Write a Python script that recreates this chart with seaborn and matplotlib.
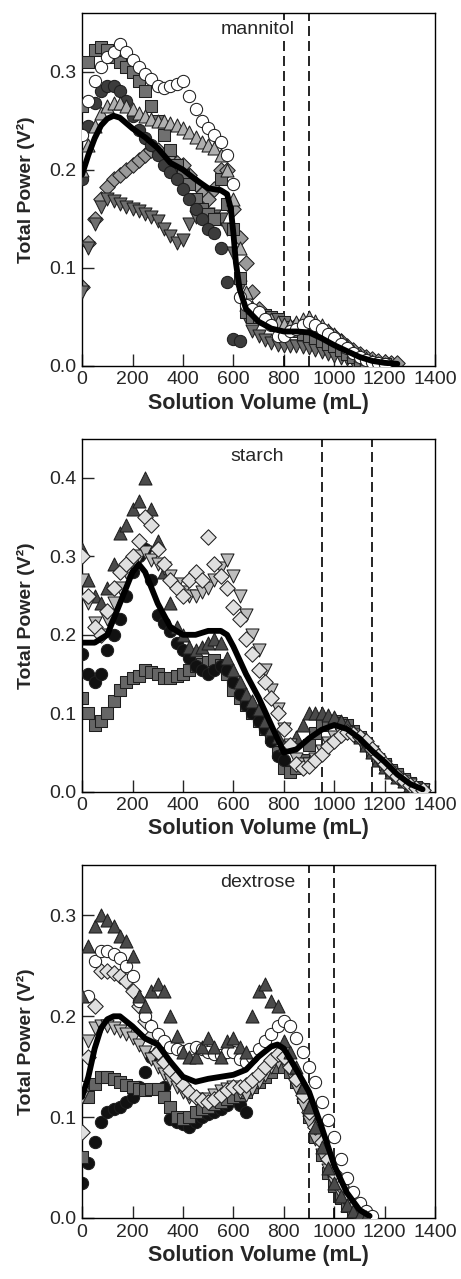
import matplotlib

matplotlib.use("Agg")
import matplotlib.pyplot as plt
import seaborn as sns

# ---- mannitol (top panel) ----
man_circ_x = list(range(0, 626, 25))
man_circ_y = [0.19, 0.245, 0.268, 0.28, 0.285, 0.285, 0.28, 0.27, 0.255, 0.24, 0.232, 0.225, 0.215,
              0.205, 0.198, 0.19, 0.18, 0.17, 0.16, 0.15, 0.14, 0.135, 0.12, 0.085, 0.027, 0.025]
man_open_x = list(range(0, 1201, 25))
man_open_y = [0.235, 0.27, 0.29, 0.305, 0.315, 0.32, 0.328, 0.32, 0.312, 0.305, 0.298, 0.292, 0.285,
              0.283, 0.285, 0.287, 0.29, 0.275, 0.262, 0.25, 0.242, 0.235, 0.228, 0.215, 0.185, 0.07,
              0.062, 0.058, 0.055, 0.048, 0.042, 0.03, 0.03, 0.035, 0.038, 0.042, 0.045, 0.042, 0.038,
              0.032, 0.028, 0.022, 0.018, 0.013, 0.009, 0.006, 0.004, 0.003, 0.002]
man_sq_x = list(range(0, 1201, 25))
man_sq_y = [0.265, 0.31, 0.322, 0.325, 0.322, 0.315, 0.31, 0.305, 0.3, 0.29, 0.28, 0.265, 0.25,
            0.235, 0.22, 0.205, 0.195, 0.185, 0.17, 0.16, 0.155, 0.15, 0.19, 0.165, 0.14, 0.09,
            0.055, 0.05, 0.05, 0.052, 0.05, 0.048, 0.045, 0.04, 0.035, 0.032, 0.03, 0.028, 0.025,
            0.022, 0.02, 0.016, 0.012, 0.009, 0.006, 0.004, 0.003, 0.002, 0.002]
man_tri_x = list(range(0, 1201, 25))
man_tri_y = [0.2, 0.225, 0.245, 0.258, 0.265, 0.268, 0.268, 0.265, 0.262, 0.258, 0.255, 0.252, 0.25,
             0.25, 0.248, 0.246, 0.243, 0.238, 0.233, 0.228, 0.225, 0.222, 0.215, 0.2, 0.17, 0.12,
             0.075, 0.06, 0.055, 0.05, 0.048, 0.045, 0.043, 0.042, 0.045, 0.048, 0.05, 0.046, 0.042,
             0.037, 0.032, 0.026, 0.02, 0.015, 0.011, 0.008, 0.005, 0.003, 0.002]
man_dia_x = list(range(0, 1251, 25))
man_dia_y = [0.08, 0.125, 0.15, 0.17, 0.182, 0.19, 0.195, 0.2, 0.205, 0.21, 0.215, 0.22, 0.22,
             0.215, 0.21, 0.207, 0.205, 0.195, 0.185, 0.175, 0.17, 0.18, 0.2, 0.2, 0.16, 0.13,
             0.105, 0.075, 0.058, 0.05, 0.045, 0.042, 0.04, 0.04, 0.042, 0.043, 0.044, 0.042, 0.038,
             0.034, 0.03, 0.025, 0.02, 0.016, 0.012, 0.009, 0.007, 0.005, 0.004, 0.003, 0.003]
man_tdn_x = list(range(0, 1151, 25))
man_tdn_y = [0.075, 0.12, 0.145, 0.162, 0.17, 0.168, 0.165, 0.162, 0.16, 0.158, 0.155, 0.152, 0.148,
             0.14, 0.132, 0.125, 0.128, 0.145, 0.152, 0.155, 0.155, 0.153, 0.15, 0.14, 0.115, 0.08,
             0.05, 0.035, 0.03, 0.026, 0.023, 0.021, 0.02, 0.02, 0.02, 0.019, 0.018, 0.016, 0.014,
             0.012, 0.01, 0.008, 0.007, 0.005, 0.004, 0.003, 0.002]
man_mean_x = [0, 25, 50, 75, 100, 125, 150, 200, 250, 300, 350, 400, 450, 500, 550, 575, 590, 600,
              610, 625, 650, 700, 750, 800, 850, 900, 950, 1000, 1050, 1100, 1150, 1200, 1250]
man_mean_y = [0.195, 0.215, 0.232, 0.245, 0.252, 0.255, 0.253, 0.242, 0.233, 0.222, 0.207, 0.2, 0.19,
              0.181, 0.179, 0.175, 0.16, 0.135, 0.105, 0.078, 0.058, 0.045, 0.038, 0.035, 0.035, 0.034,
              0.028, 0.021, 0.015, 0.009, 0.005, 0.003, 0.002]

# ---- starch (middle panel) ----
sta_circ_x = list(range(0, 801, 25))
sta_circ_y = [0.175, 0.15, 0.14, 0.15, 0.18, 0.2, 0.22, 0.25, 0.28, 0.3, 0.31, 0.27, 0.225, 0.215,
              0.205, 0.19, 0.18, 0.17, 0.16, 0.155, 0.15, 0.155, 0.16, 0.155, 0.14, 0.125, 0.11,
              0.1, 0.09, 0.08, 0.065, 0.045, 0.04]
sta_sq_x = list(range(0, 1351, 25))
sta_sq_y = [0.12, 0.1, 0.085, 0.09, 0.1, 0.115, 0.13, 0.14, 0.145, 0.148, 0.155, 0.152, 0.15, 0.145,
            0.145, 0.148, 0.15, 0.155, 0.16, 0.163, 0.165, 0.168, 0.162, 0.15, 0.13, 0.12, 0.11,
            0.1, 0.09, 0.08, 0.07, 0.05, 0.03, 0.025, 0.03, 0.04, 0.06, 0.075, 0.085, 0.09, 0.09,
            0.088, 0.085, 0.078, 0.07, 0.06, 0.05, 0.042, 0.035, 0.028, 0.022, 0.016, 0.011,
            0.006, 0.003]
sta_tri_x = list(range(0, 1351, 25))
sta_tri_y = [0.31, 0.27, 0.25, 0.24, 0.26, 0.29, 0.33, 0.34, 0.36, 0.37, 0.4, 0.36, 0.32, 0.28,
             0.24, 0.21, 0.2, 0.185, 0.18, 0.185, 0.19, 0.195, 0.19, 0.17, 0.155, 0.14, 0.125,
             0.115, 0.105, 0.09, 0.08, 0.07, 0.06, 0.06, 0.07, 0.085, 0.1, 0.1, 0.1, 0.098, 0.095,
             0.09, 0.085, 0.078, 0.07, 0.06, 0.05, 0.04, 0.032, 0.025, 0.019, 0.014, 0.009,
             0.005, 0.002]
sta_dia_x = list(range(0, 1351, 25))
sta_dia_y = [0.3, 0.25, 0.21, 0.2, 0.23, 0.26, 0.28, 0.29, 0.3, 0.32, 0.35, 0.34, 0.31, 0.29,
             0.27, 0.26, 0.25, 0.27, 0.28, 0.27, 0.325, 0.29, 0.275, 0.26, 0.235, 0.22, 0.195,
             0.175, 0.155, 0.14, 0.12, 0.1, 0.08, 0.06, 0.035, 0.03, 0.033, 0.04, 0.048, 0.058,
             0.065, 0.072, 0.076, 0.074, 0.07, 0.064, 0.055, 0.045, 0.035, 0.027, 0.02, 0.014,
             0.009, 0.005, 0.002]
sta_tdn_x = list(range(0, 1351, 25))
sta_tdn_y = [0.27, 0.24, 0.215, 0.2, 0.22, 0.24, 0.26, 0.28, 0.29, 0.3, 0.305, 0.295, 0.29, 0.285,
             0.275, 0.265, 0.255, 0.25, 0.25, 0.255, 0.26, 0.27, 0.285, 0.295, 0.275, 0.25, 0.225,
             0.2, 0.18, 0.155, 0.13, 0.105, 0.08, 0.06, 0.042, 0.035, 0.035, 0.042, 0.052, 0.062,
             0.07, 0.075, 0.075, 0.072, 0.066, 0.058, 0.05, 0.04, 0.031, 0.024, 0.017, 0.012,
             0.008, 0.004, 0.002]
sta_mean_x = [0, 50, 100, 150, 200, 225, 250, 300, 350, 400, 450, 500, 550, 575, 600, 650, 700,
              750, 800, 850, 900, 950, 1000, 1050, 1100, 1150, 1200, 1250, 1300, 1350]
sta_mean_y = [0.19, 0.19, 0.2, 0.24, 0.28, 0.29, 0.28, 0.24, 0.21, 0.2, 0.2, 0.205, 0.205, 0.2,
              0.185, 0.15, 0.12, 0.085, 0.05, 0.054, 0.068, 0.079, 0.085, 0.08, 0.068, 0.052, 0.038,
              0.022, 0.01, 0.003]

# ---- dextrose (bottom panel) ----
dex_circ_x = list(range(0, 651, 25))
dex_circ_y = [0.035, 0.055, 0.075, 0.095, 0.105, 0.108, 0.11, 0.115, 0.12, 0.13, 0.145, 0.16, 0.165,
              0.13, 0.098, 0.095, 0.093, 0.09, 0.095, 0.1, 0.103, 0.105, 0.108, 0.112, 0.118, 0.112,
              0.105]
dex_sq_x = list(range(0, 1126, 25))
dex_sq_y = [0.06, 0.12, 0.133, 0.14, 0.14, 0.138, 0.135, 0.132, 0.13, 0.128, 0.127, 0.128, 0.128,
            0.12, 0.11, 0.1, 0.098, 0.1, 0.105, 0.108, 0.11, 0.113, 0.115, 0.118, 0.12, 0.122, 0.125,
            0.13, 0.135, 0.14, 0.145, 0.15, 0.15, 0.145, 0.135, 0.12, 0.1, 0.08, 0.062, 0.045, 0.032,
            0.02, 0.012, 0.007, 0.003, 0.001]
dex_tri_x = list(range(0, 1126, 25))
dex_tri_y = [0.22, 0.27, 0.29, 0.3, 0.295, 0.29, 0.28, 0.275, 0.26, 0.22, 0.21, 0.225, 0.232, 0.225,
             0.2, 0.18, 0.165, 0.16, 0.16, 0.17, 0.178, 0.17, 0.16, 0.175, 0.178, 0.17, 0.165, 0.2,
             0.225, 0.232, 0.215, 0.21, 0.175, 0.165, 0.15, 0.13, 0.11, 0.09, 0.07, 0.05, 0.035,
             0.022, 0.013, 0.007, 0.003, 0.001]
dex_open_x = list(range(0, 1151, 25))
dex_open_y = [0.13, 0.22, 0.255, 0.265, 0.265, 0.262, 0.258, 0.25, 0.24, 0.215, 0.2, 0.19, 0.182,
              0.175, 0.17, 0.168, 0.166, 0.168, 0.17, 0.168, 0.165, 0.163, 0.162, 0.165, 0.165, 0.158,
              0.155, 0.16, 0.168, 0.175, 0.182, 0.19, 0.195, 0.19, 0.178, 0.165, 0.15, 0.135, 0.115,
              0.097, 0.08, 0.058, 0.04, 0.026, 0.015, 0.007, 0.002]
dex_dia_x = list(range(0, 1126, 25))
dex_dia_y = [0.085, 0.16, 0.21, 0.245, 0.245, 0.243, 0.24, 0.235, 0.225, 0.21, 0.195, 0.18, 0.165,
             0.155, 0.147, 0.14, 0.132, 0.125, 0.12, 0.117, 0.115, 0.118, 0.122, 0.127, 0.13, 0.13,
             0.132, 0.137, 0.143, 0.15, 0.157, 0.163, 0.16, 0.15, 0.138, 0.122, 0.105, 0.09, 0.075,
             0.058, 0.045, 0.032, 0.02, 0.011, 0.005, 0.002]
dex_tdn_x = list(range(0, 1126, 25))
dex_tdn_y = [0.12, 0.175, 0.188, 0.19, 0.19, 0.188, 0.185, 0.182, 0.178, 0.172, 0.165, 0.158, 0.15,
             0.143, 0.137, 0.13, 0.125, 0.12, 0.118, 0.116, 0.118, 0.122, 0.126, 0.128, 0.13, 0.125,
             0.122, 0.128, 0.135, 0.142, 0.15, 0.155, 0.155, 0.145, 0.13, 0.112, 0.095, 0.078,
             0.062, 0.048, 0.035, 0.023, 0.014, 0.007, 0.003, 0.001]
dex_mean_x = [0, 25, 50, 75, 100, 125, 150, 200, 250, 300, 350, 400, 450, 500, 550, 600, 650, 700,
              750, 775, 800, 850, 900, 950, 1000, 1050, 1100, 1140]
dex_mean_y = [0.12, 0.14, 0.168, 0.188, 0.197, 0.2, 0.2, 0.19, 0.178, 0.172, 0.155, 0.14, 0.135,
              0.138, 0.14, 0.142, 0.147, 0.16, 0.17, 0.172, 0.168, 0.147, 0.125, 0.09, 0.052, 0.025,
              0.008, 0.002]

# 溶液名, 破線位置, y上限
panel_names = ["mannitol", "starch", "dextrose"]
panel_name_y = [0.338, 0.421, 0.328]
panel_vlines = [[800, 900], [950, 1150], [900, 1000]]
panel_ylim = [0.36, 0.45, 0.35]
panel_yticks = [[0.0, 0.1, 0.2, 0.3], [0.0, 0.1, 0.2, 0.3, 0.4], [0.0, 0.1, 0.2, 0.3]]

sns.set_style("ticks")
plt.rcParams["font.family"] = ["Liberation Sans", "DejaVu Sans"]

fig = plt.figure(figsize=(4.61, 12.79), dpi=100)
bottoms = [0.714, 0.381, 0.0477]
axes = [fig.add_axes([0.178, b, 0.766, 0.276]) for b in bottoms]

EDGE = "#1e1e1e"
SIZES = {"o": 78, "s": 72, "^": 88, "v": 88, "D": 62}


def scatter(ax, x, y, marker, color, z):
    sns.scatterplot(x=x, y=y, marker=marker, s=SIZES[marker], color=color, edgecolor=EDGE,
                    linewidth=0.75, ax=ax, zorder=z, legend=False)


# mannitol
ax = axes[0]
scatter(ax, man_dia_x, man_dia_y, "D", "#9a9a9a", 2)
scatter(ax, man_tdn_x, man_tdn_y, "v", "#6e6e6e", 3)
scatter(ax, man_sq_x, man_sq_y, "s", "#707070", 4)
scatter(ax, man_circ_x, man_circ_y, "o", "#3c3c3c", 5)
scatter(ax, man_tri_x, man_tri_y, "^", "#b0b0b0", 6)
scatter(ax, man_open_x, man_open_y, "o", "white", 7)
sns.lineplot(x=man_mean_x, y=man_mean_y, color="black", lw=4.2, ax=ax, zorder=10)

# starch
ax = axes[1]
scatter(ax, sta_sq_x, sta_sq_y, "s", "#666666", 2)
scatter(ax, sta_circ_x, sta_circ_y, "o", "#111111", 3)
scatter(ax, sta_tri_x, sta_tri_y, "^", "#4a4a4a", 4)
scatter(ax, sta_tdn_x, sta_tdn_y, "v", "#bdbdbd", 5)
scatter(ax, sta_dia_x, sta_dia_y, "D", "#e0e0e0", 6)
sns.lineplot(x=sta_mean_x, y=sta_mean_y, color="black", lw=4.2, ax=ax, zorder=10)

# dextrose
ax = axes[2]
scatter(ax, dex_circ_x, dex_circ_y, "o", "#111111", 2)
scatter(ax, dex_sq_x, dex_sq_y, "s", "#666666", 3)
scatter(ax, dex_tdn_x, dex_tdn_y, "v", "#bdbdbd", 4)
scatter(ax, dex_dia_x, dex_dia_y, "D", "#e0e0e0", 5)
scatter(ax, dex_open_x, dex_open_y, "o", "white", 6)
scatter(ax, dex_tri_x, dex_tri_y, "^", "#4a4a4a", 7)
sns.lineplot(x=dex_mean_x, y=dex_mean_y, color="black", lw=4.2, ax=ax, zorder=10)

for ax, name, ny, vl, ytop, yt in zip(axes, panel_names, panel_name_y, panel_vlines,
                                      panel_ylim, panel_yticks):
    for v in vl:
        ax.axvline(v, color="black", lw=1.2, linestyle=(0, (6, 3)), zorder=1)
    ax.text(695, ny, name, ha="center", va="baseline", fontsize=14, zorder=12,
            bbox=dict(facecolor="white", edgecolor="none", pad=1.0))
    ax.set_xlim(0, 1400)
    ax.set_ylim(0, ytop)
    ax.set_xticks(range(0, 1401, 200))
    ax.set_yticks(yt)
    ax.set_yticklabels([f"{t:.1f}" for t in yt])
    ax.tick_params(direction="in", length=8.5, width=1, labelsize=14, pad=4)
    for sp in ax.spines.values():
        sp.set_linewidth(1)
        sp.set_color("black")
    ax.set_xlabel("Solution Volume (mL)", fontsize=15.5, fontweight="bold", labelpad=3)
    ax.set_ylabel("Total Power (V²)", fontsize=14, fontweight="bold")
    ax.yaxis.set_label_coords(-0.133, 0.5)

fig.savefig("out.png", dpi=100)
